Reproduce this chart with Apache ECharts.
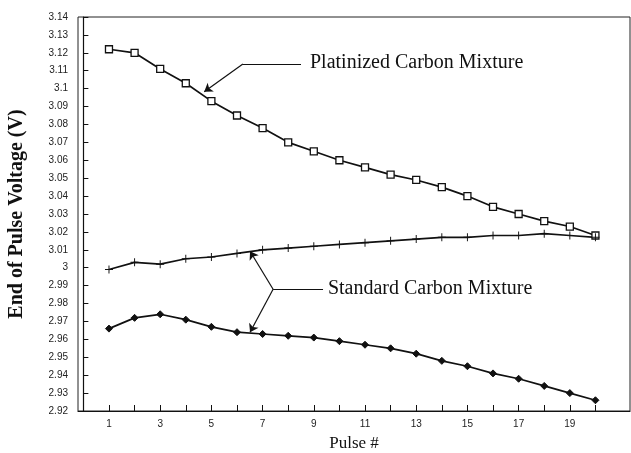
<!DOCTYPE html>
<html>
<head>
<meta charset="utf-8">
<script src="https://cdn.jsdelivr.net/npm/echarts@6/dist/echarts.min.js"></script>
<style>html,body{margin:0;padding:0;background:#fff}#c{width:631px;height:453px}</style>
</head>
<body>
<div id="c"></div>
<script>
// Data
const pulses = [1,2,3,4,5,6,7,8,9,10,11,12,13,14,15,16,17,18,19,20];
const platinized = [3.122,3.120,3.111,3.103,3.093,3.085,3.078,3.070,3.065,3.060,3.056,3.052,3.049,3.045,3.040,3.034,3.030,3.026,3.023,3.018];
const standardUpper = [2.999,3.003,3.002,3.005,3.006,3.008,3.010,3.011,3.012,3.013,3.014,3.015,3.016,3.017,3.017,3.018,3.018,3.019,3.018,3.017];
const standardLower = [2.966,2.972,2.974,2.971,2.967,2.964,2.963,2.962,2.961,2.959,2.957,2.955,2.952,2.948,2.945,2.941,2.938,2.934,2.930,2.926];
const xTickValues = [1,2,3,4,5,6,7,8,9,10,11,12,13,14,15,16,17,18,19,20];
const xLabelValues = [1,3,5,7,9,11,13,15,17,19];
const labelPlatinized = 'Platinized Carbon Mixture';
const labelStandard = 'Standard Carbon Mixture';
// annotation anchor points (data coordinates)
const annPlatText = [8.85, 3.1143];
const annPlatPath = [[8.50, 3.1137],[6.23, 3.1137],[4.72, 3.0983]];
const annStdText = [9.55, 2.988];
const annStdJoint = [7.41, 2.988];
const annStdStart = [9.36, 2.988];
const annStdUp = [6.51, 3.0092];
const annStdDown = [6.51, 2.964];

const zip = (xs, ys) => xs.map((x, i) => [x, ys[i]]);
const serif = '"Liberation Serif", "DejaVu Serif", serif';
const plusSymbol = 'path://M4.4,0h1.2v4.4h4.4v1.2h-4.4v4.4h-1.2v-4.4h-4.4v-1.2h4.4z';

const chart = echarts.init(document.getElementById('c'), null, {renderer: 'canvas'});
const lineStyle = {color: '#111', width: 1.7};
const arrowLine = {color: '#111', width: 1.2, type: 'solid'};

chart.setOption({
  animation: false,
  backgroundColor: '#fff',
  grid: {left: 78, top: 17, right: 1, bottom: 42, show: true, borderColor: '#222', borderWidth: 1,
    containLabel: false, outerBoundsMode: 'none'},
  xAxis: {
    type: 'value', min: -0.21, max: 21.35,
    name: 'Pulse #', nameLocation: 'middle', nameGap: 24,
    nameTextStyle: {fontFamily: serif, fontSize: 17, color: '#111'},
    axisLine: {show: true, lineStyle: {color: '#111', width: 1.2}},
    axisTick: {show: true, inside: true, length: 6, customValues: xTickValues, lineStyle: {color: '#111'}},
    axisLabel: {customValues: xLabelValues, margin: 8, fontFamily: 'Liberation Sans, Arial, sans-serif', fontSize: 10, color: '#222'},
    splitLine: {show: false}
  },
  yAxis: {
    type: 'value', min: 2.92, max: 3.14, interval: 0.01,
    name: 'End of Pulse Voltage (V)', nameLocation: 'middle', nameGap: 51,
    nameTextStyle: {fontFamily: serif, fontSize: 20, fontWeight: 'bold', color: '#111'},
    axisLine: {show: true, lineStyle: {color: '#111', width: 1.2}},
    axisTick: {show: true, inside: true, length: 5, lineStyle: {color: '#111'}},
    axisLabel: {margin: 10, fontFamily: 'Liberation Sans, Arial, sans-serif', fontSize: 10, color: '#222',
      formatter: v => String(+v.toFixed(2))},
    splitLine: {show: false}
  },
  series: [
    {
      name: labelPlatinized, type: 'line', data: zip(pulses, platinized),
      symbol: 'rect', symbolSize: 7, lineStyle: lineStyle,
      itemStyle: {color: '#fff', borderColor: '#111', borderWidth: 1.3},
      markLine: {
        silent: true, symbol: ['none', 'none'], lineStyle: arrowLine, label: {show: false},
        data: [
          [{coord: annPlatPath[0]}, {coord: annPlatPath[1]}],
          [{coord: annPlatPath[1]}, {coord: annPlatPath[2], symbol: 'arrow', symbolSize: 8}]
        ]
      },
      markPoint: {
        silent: true, symbol: 'circle', symbolSize: 0,
        data: [{coord: annPlatText, label: {show: true, formatter: labelPlatinized, position: 'right', distance: 0,
          fontFamily: serif, fontSize: 20, color: '#111'}}]
      }
    },
    {
      name: labelStandard, type: 'line', data: zip(pulses, standardUpper),
      symbol: plusSymbol, symbolSize: 8, lineStyle: lineStyle,
      itemStyle: {color: '#111'},
      markLine: {
        silent: true, symbol: ['none', 'none'], lineStyle: arrowLine, label: {show: false},
        data: [
          [{coord: annStdStart}, {coord: annStdJoint}],
          [{coord: annStdJoint}, {coord: annStdUp, symbol: 'arrow', symbolSize: 8}],
          [{coord: annStdJoint}, {coord: annStdDown, symbol: 'arrow', symbolSize: 8}]
        ]
      },
      markPoint: {
        silent: true, symbol: 'circle', symbolSize: 0,
        data: [{coord: annStdText, label: {show: true, formatter: labelStandard, position: 'right', distance: 0,
          fontFamily: serif, fontSize: 20, color: '#111'}}]
      }
    },
    {
      name: labelStandard + ' (lower)', type: 'line', data: zip(pulses, standardLower),
      symbol: 'diamond', symbolSize: 7, lineStyle: lineStyle,
      itemStyle: {color: '#111', borderColor: '#111', borderWidth: 1}
    }
  ]
});
</script>
</body>
</html>
